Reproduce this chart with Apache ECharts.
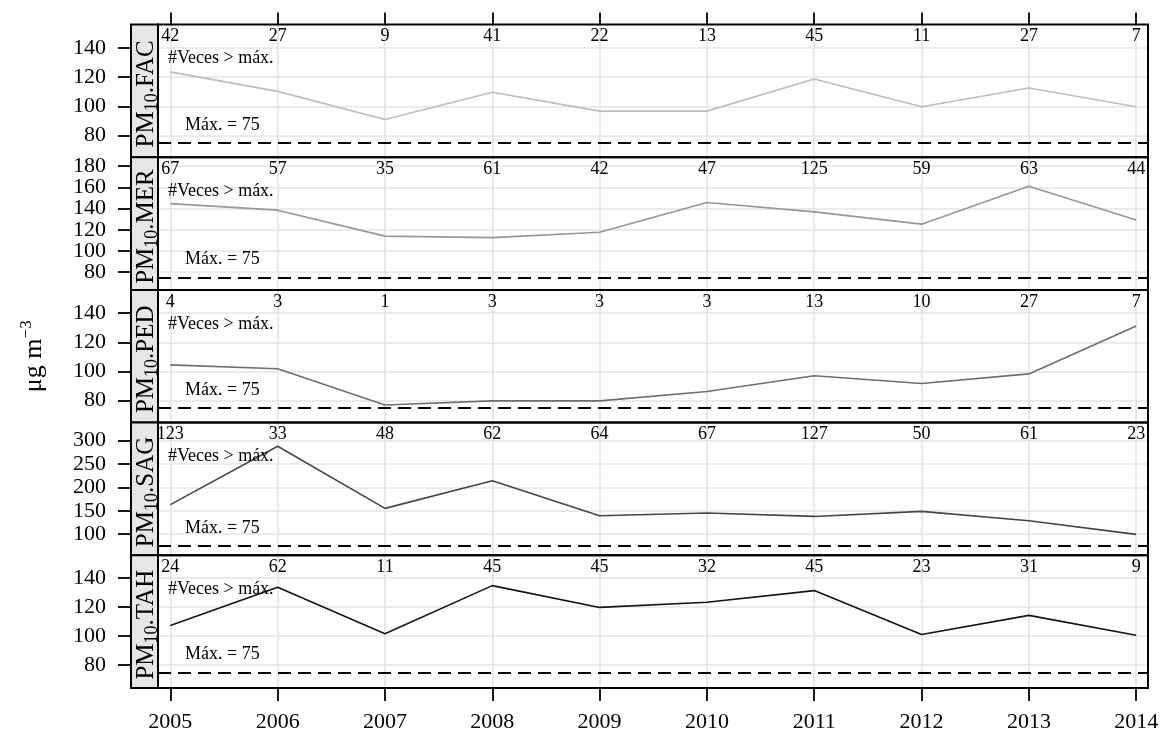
<!DOCTYPE html>
<html>
<head>
<meta charset="utf-8">
<script src="https://cdn.jsdelivr.net/npm/echarts@6/dist/echarts.min.js"></script>
<style>
  html, body { margin: 0; padding: 0; background: #fff; }
  #chart { width: 1163px; height: 735px; }
</style>
</head>
<body>
<div id="chart"></div>
<script>
// Annual PM10 maxima per station (µg m^-3), with number of exceedances of the 75 limit
const years = [2005, 2006, 2007, 2008, 2009, 2010, 2011, 2012, 2013, 2014];
const stations = ['FAC', 'MER', 'PED', 'SAG', 'TAH'];

const pmFAC = [123.5, 110.2, 91.0, 109.6, 96.7, 96.7, 118.7, 99.7, 112.5, 99.7];
const pmMER = [144.7, 138.5, 114.0, 112.6, 117.7, 145.7, 136.9, 125.3, 161.1, 129.3];
const pmPED = [104.5, 101.8, 77.0, 79.8, 79.8, 86.2, 97.0, 91.7, 98.3, 131.1];
const pmSAG = [163.0, 287.9, 155.0, 214.3, 139.3, 145.0, 137.8, 148.6, 128.6, 99.3];
const pmTAH = [107.3, 133.6, 101.6, 134.7, 119.7, 123.3, 131.3, 101.0, 114.2, 100.5];

const nFAC = [42, 27, 9, 41, 22, 13, 45, 11, 27, 7];
const nMER = [67, 57, 35, 61, 42, 47, 125, 59, 63, 44];
const nPED = [4, 3, 1, 3, 3, 3, 13, 10, 27, 7];
const nSAG = [123, 33, 48, 62, 64, 67, 127, 50, 61, 23];
const nTAH = [24, 62, 11, 45, 45, 32, 45, 23, 31, 9];

const ticksFAC = [80, 100, 120, 140];
const ticksMER = [80, 100, 120, 140, 160, 180];
const ticksPED = [80, 100, 120, 140];
const ticksSAG = [100, 150, 200, 250, 300];
const ticksTAH = [80, 100, 120, 140];

const limitValue = 75;
const limitText = 'Máx. = 75';
const countText = '#Veces > máx.';

const pmValues = [pmFAC, pmMER, pmPED, pmSAG, pmTAH];
const counts = [nFAC, nMER, nPED, nSAG, nTAH];
const yTicks = [ticksFAC, ticksMER, ticksPED, ticksSAG, ticksTAH];
const yRanges = [[65.2, 155.9], [63.2, 188.5], [64.9, 155.9], [54.6, 338.6], [64.2, 155.6]];
const lineColors = ['#bdbdbd', '#979797', '#6e6e6e', '#464646', '#141414'];

// layout
const FONT = '"Liberation Serif", "Times New Roman", Times, serif';
const plotLeft = 158, plotRight = 1148, stripLeft = 131;
const panelTop0 = 24.5, panelH = 132.7;
const xMin = 2004.885, xMax = 2014.11;
const gridCol = '#e4e4e4';

const grids = [], xAxes = [], yAxes = [], series = [];

// y ticks are shared between two coincident axes (alternate ticks each) so that
// closely spaced labels are never dropped by the axis overlap check
function yAxisFor(i, values) {
  return {
    type: 'value', gridIndex: i, min: yRanges[i][0], max: yRanges[i][1], offset: plotLeft - stripLeft,
    position: 'left',
    axisLine: { show: false },
    axisTick: { show: true, customValues: values, length: 13, lineStyle: { color: '#000', width: 1.8 } },
    axisLabel: {
      customValues: values, margin: 25, fontSize: 22, fontFamily: FONT, color: '#000',
      showMinLabel: true, showMaxLabel: true
    },
    splitLine: { show: true, lineStyle: { color: gridCol, width: 1.6 } }
  };
}

stations.forEach((st, i) => {
  const top = panelTop0 + i * panelH;
  const last = i === stations.length - 1;
  grids.push({ left: plotLeft, top: top, width: plotRight - plotLeft, height: panelH, outerBoundsMode: 'none' });

  // bottom axis: vertical grid lines, year ticks/labels on the last panel
  xAxes.push({
    type: 'value', gridIndex: i, position: 'bottom', min: xMin, max: xMax,
    axisLine: { show: false },
    axisTick: { show: last, customValues: years, length: 13, lineStyle: { color: '#000', width: 1.8 } },
    axisLabel: {
      show: last, customValues: years, margin: 23, fontSize: 22, fontFamily: FONT, color: '#000',
      showMinLabel: true, showMaxLabel: true,
      formatter: v => String(Math.round(v))
    },
    splitLine: { show: true, lineStyle: { color: gridCol, width: 1.6 } }
  });
  // top axis: exceedance counts inside the panel, outer ticks on the first panel
  xAxes.push({
    type: 'value', gridIndex: i, position: 'top', min: xMin, max: xMax,
    axisLine: { show: false },
    axisTick: { show: i === 0, inside: false, customValues: years, length: 12, lineStyle: { color: '#000', width: 1.8 } },
    axisLabel: {
      show: true, inside: true, customValues: years, margin: 3, fontSize: 18, fontFamily: FONT, color: '#000',
      showMinLabel: true, showMaxLabel: true,
      formatter: v => String(counts[i][years.indexOf(Math.round(v))])
    },
    splitLine: { show: false }
  });

  const yIndex = yAxes.length;
  yAxes.push(yAxisFor(i, yTicks[i].filter((v, k) => k % 2 === 0)));
  yAxes.push(yAxisFor(i, yTicks[i].filter((v, k) => k % 2 === 1)));

  series.push({
    type: 'line', xAxisIndex: 2 * i, yAxisIndex: yIndex,
    data: years.map((y, k) => [y, pmValues[i][k]]),
    showSymbol: false, symbol: 'none',
    lineStyle: { color: lineColors[i], width: 1.6 },
    itemStyle: { color: lineColors[i] },
    z: 3,
    markLine: {
      silent: true, symbol: 'none', animation: false,
      label: { show: false },
      lineStyle: { color: '#000', type: [13, 7], width: 1.8 },
      data: [{ yAxis: limitValue }]
    }
  });
});

const chart = echarts.init(document.getElementById('chart'), null, { renderer: 'canvas' });
chart.setOption({
  animation: false,
  backgroundColor: '#fff',
  grid: grids,
  xAxis: xAxes,
  yAxis: yAxes,
  series: series
});

// panel frames, strips and annotations
const graphics = [];
stations.forEach((st, i) => {
  const top = panelTop0 + i * panelH;
  graphics.push({
    type: 'rect', z: 100, silent: true,
    shape: { x: stripLeft, y: top, width: plotLeft - stripLeft, height: panelH },
    style: { fill: '#e6e6e6', stroke: '#000', lineWidth: 2 }
  });
  graphics.push({
    type: 'rect', z: 100, silent: true,
    shape: { x: plotLeft, y: top, width: plotRight - plotLeft, height: panelH },
    style: { fill: 'transparent', stroke: '#000', lineWidth: 2 }
  });
  graphics.push({
    type: 'text', z: 101, silent: true,
    x: 146, y: top + panelH / 2 + 3, rotation: Math.PI / 2,
    style: {
      text: '{a|PM}{sub|10}{a|.' + st + '}',
      align: 'center', verticalAlign: 'middle',
      rich: {
        a: { fontSize: 25, fontFamily: FONT, fill: '#000', lineHeight: 30, verticalAlign: 'middle' },
        sub: { fontSize: 18, fontFamily: FONT, fill: '#000', lineHeight: 17, verticalAlign: 'bottom' }
      }
    }
  });
  graphics.push({
    type: 'text', z: 101, silent: true,
    x: 168, y: top + 34,
    style: { text: countText, fontSize: 18, fontFamily: FONT, fill: '#000', align: 'left', verticalAlign: 'middle' }
  });
  const p = chart.convertToPixel({ gridIndex: i }, [years[0], limitValue]);
  graphics.push({
    type: 'text', z: 101, silent: true,
    x: 185, y: p[1] - 18,
    style: { text: limitText, fontSize: 18, fontFamily: FONT, fill: '#000', align: 'left', verticalAlign: 'middle' }
  });
});
// y title, reading bottom-to-top
graphics.push({
  type: 'text', z: 101, silent: true,
  x: 34, y: panelTop0 + panelH * stations.length / 2, rotation: Math.PI / 2,
  style: {
    text: '{a|μg m}{sup|−3}', align: 'center', verticalAlign: 'middle',
    rich: {
      a: { fontSize: 26, fontFamily: FONT, fill: '#000', lineHeight: 32, verticalAlign: 'middle' },
      sup: { fontSize: 17, fontFamily: FONT, fill: '#000', lineHeight: 14, verticalAlign: 'top' }
    }
  }
});
chart.setOption({ graphic: graphics });
</script>
</body>
</html>
